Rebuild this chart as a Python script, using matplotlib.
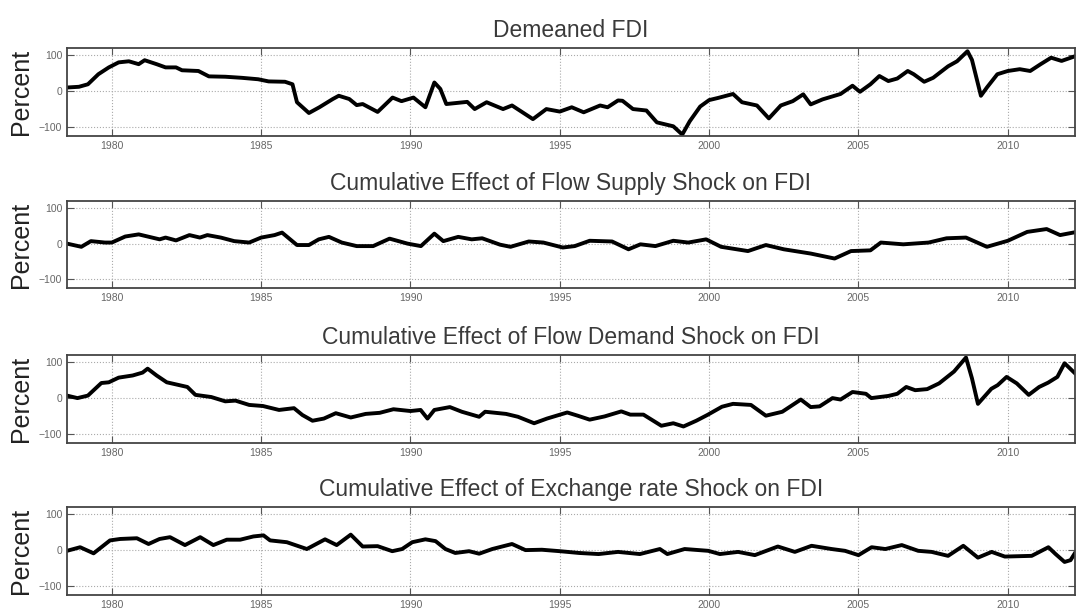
import numpy as np
import matplotlib
matplotlib.use("Agg")
import matplotlib.pyplot as plt

plt.rcParams['font.family'] = ['Liberation Sans', 'DejaVu Sans']

titles = ["Demeaned FDI",
          "Cumulative Effect of Flow Supply Shock on FDI",
          "Cumulative Effect of Flow Demand Shock on FDI",
          "Cumulative Effect of Exchange rate Shock on FDI"]

# demeaned FDI
t_fdi = [1978.5, 1978.9, 1979.2, 1979.55, 1979.9, 1980.23, 1980.57, 1980.9, 1981.1, 1981.5,
         1981.8, 1982.15, 1982.35, 1982.9, 1983.25, 1983.8, 1984.35, 1984.9, 1985.25, 1985.8,
         1986.05, 1986.2, 1986.6, 1986.95, 1987.4, 1987.6, 1987.95, 1988.2, 1988.4, 1988.9,
         1989.4, 1989.7, 1990.1, 1990.5, 1990.8, 1991.0, 1991.2, 1991.9, 1992.15, 1992.55,
         1993.1, 1993.4, 1994.1, 1994.55, 1995.0, 1995.4, 1995.8, 1996.35, 1996.6, 1996.95,
         1997.1, 1997.45, 1997.9, 1998.25, 1998.8, 1999.1, 1999.35, 1999.7, 2000.0, 2000.3,
         2000.8, 2001.1, 2001.6, 2002.0, 2002.4, 2002.8, 2003.15, 2003.4, 2003.8, 2004.4,
         2004.8, 2005.05, 2005.4, 2005.7, 2006.0, 2006.3, 2006.65, 2006.85, 2007.2, 2007.5,
         2008.0, 2008.3, 2008.65, 2008.8, 2009.1, 2009.3, 2009.65, 2010.0, 2010.4, 2010.75,
         2011.1, 2011.45, 2011.8, 2012.25]
v_fdi = [10, 12, 19, 47, 66, 80, 83, 75, 86, 75,
         66, 66, 58, 56, 41, 40, 37, 33, 27, 26,
         19, -31, -61, -45, -22, -13, -22, -39, -36, -58,
         -18, -28, -18, -45, 24, 6, -36, -30, -50, -31,
         -50, -40, -78, -50, -57, -45, -59, -40, -45, -26,
         -27, -50, -54, -87, -98, -121, -84, -43, -25, -19,
         -8, -31, -40, -76, -40, -28, -9, -37, -23, -8,
         15, -2, 19, 42, 28, 35, 56, 47, 26, 37,
         69, 83, 111, 87, -13, 10, 47, 56, 61, 56,
         75, 93, 84, 97]

# flow supply shock
t_sup = [1978.5, 1978.98, 1979.3, 1979.77, 1980.0, 1980.45, 1980.9, 1981.6, 1981.8, 1982.15,
         1982.6, 1982.95, 1983.2, 1983.65, 1984.1, 1984.6, 1985.0, 1985.45, 1985.7, 1986.2,
         1986.6, 1986.93, 1987.27, 1987.7, 1988.2, 1988.75, 1989.3, 1989.9, 1990.35, 1990.8,
         1991.1, 1991.6, 1992.05, 1992.4, 1993.0, 1993.35, 1993.96, 1994.45, 1995.1, 1995.5,
         1996.0, 1996.75, 1997.3, 1997.7, 1998.2, 1998.8, 1999.3, 1999.9, 2000.4, 2001.3,
         2001.9, 2002.5, 2003.4, 2004.2, 2004.75, 2005.4, 2005.75, 2006.5, 2007.35, 2007.95,
         2008.6, 2009.3, 2010.0, 2010.65, 2011.3, 2011.75, 2012.25]
v_sup = [0, -9, 7, 3, 3, 20, 26, 12, 17, 9,
         24, 17, 24, 17, 7, 3, 17, 24, 31, -4,
         -4, 12, 19, 3, -7, -7, 14, 0, -7, 28,
         7, 19, 12, 15, -3, -9, 6, 3, -11, -7,
         8, 6, -16, -2, -7, 8, 3, 12, -9, -21,
         -4, -16, -28, -42, -21, -19, 3, -2, 3, 15,
         17, -9, 8, 33, 41, 24, 32]

# flow demand shock
t_dem = [1978.5, 1978.85, 1979.2, 1979.65, 1979.9, 1980.23, 1980.7, 1981.03, 1981.2, 1981.5,
         1981.84, 1982.53, 1982.8, 1983.33, 1983.8, 1984.14, 1984.6, 1985.06, 1985.6, 1986.1,
         1986.38, 1986.72, 1987.1, 1987.5, 1988.0, 1988.5, 1988.97, 1989.43, 1990.0, 1990.34,
         1990.57, 1990.8, 1991.32, 1991.72, 1992.3, 1992.5, 1993.2, 1993.6, 1994.14, 1994.57,
         1995.25, 1995.6, 1996.0, 1996.5, 1997.06, 1997.36, 1997.8, 1998.4, 1998.8, 1999.14,
         1999.57, 1999.94, 2000.43, 2000.8, 2001.4, 2001.9, 2002.45, 2002.76, 2003.07, 2003.4,
         2003.7, 2004.13, 2004.4, 2004.8, 2005.25, 2005.43, 2006.0, 2006.3, 2006.6, 2006.9,
         2007.3, 2007.7, 2008.2, 2008.6, 2008.8, 2009.0, 2009.45, 2009.66, 2009.96, 2010.3,
         2010.7, 2011.05, 2011.35, 2011.66, 2011.9, 2012.25]
v_dem = [7, 0, 7, 42, 44, 57, 63, 71, 82, 63,
         44, 31, 9, 3, -9, -7, -19, -22, -33, -28,
         -47, -63, -57, -42, -54, -44, -41, -31, -36, -33,
         -57, -33, -25, -38, -52, -38, -44, -52, -70, -57,
         -40, -49, -60, -51, -37, -46, -46, -77, -70, -79,
         -63, -47, -24, -16, -19, -49, -38, -21, -4, -25,
         -23, 0, -4, 17, 12, 0, 6, 12, 31, 22,
         25, 41, 74, 113, 55, -16, 26, 36, 59, 41,
         9, 31, 43, 59, 97, 69]

# exchange rate shock
t_exr = [1978.5, 1978.94, 1979.39, 1979.94, 1980.28, 1980.84, 1981.23, 1981.6, 1981.95, 1982.45,
         1982.96, 1983.4, 1983.85, 1984.3, 1984.74, 1985.08, 1985.3, 1985.86, 1986.53, 1987.14,
         1987.53, 1988.0, 1988.4, 1988.9, 1989.39, 1989.72, 1990.06, 1990.5, 1990.84, 1991.17,
         1991.5, 1991.96, 1992.3, 1992.74, 1993.4, 1993.85, 1994.4, 1995.0, 1995.65, 1996.3,
         1996.95, 1997.68, 1998.35, 1998.6, 1999.18, 1999.97, 2000.36, 2000.97, 2001.53, 2002.3,
         2002.87, 2003.43, 2004.1, 2004.55, 2005.0, 2005.44, 2005.9, 2006.45, 2007.0, 2007.45,
         2008.0, 2008.51, 2009.0, 2009.46, 2009.9, 2010.8, 2011.36, 2011.6, 2011.9, 2012.1,
         2012.25]
v_exr = [-2, 8, -9, 27, 31, 33, 17, 31, 36, 14,
         36, 14, 29, 29, 38, 41, 27, 22, 3, 30,
         14, 43, 10, 11, -3, 3, 22, 30, 25, 3,
         -8, -3, -10, 3, 17, 0, 1, -3, -8, -11,
         -5, -11, 3, -11, 3, -2, -11, -5, -14, 10,
         -5, 12, 3, -2, -14, 8, 3, 14, -2, -5,
         -16, 12, -21, -5, -18, -16, 8, -11, -33, -28,
         -8]

series = [(t_fdi, v_fdi), (t_sup, v_sup), (t_dem, v_dem), (t_exr, v_exr)]
xticks = [1980, 1985, 1990, 1995, 2000, 2005, 2010]
yticks = [-100, 0, 100]

fig = plt.figure(figsize=(10.76, 6.14), dpi=100)

# axes boxes in pixels: top, bottom
boxes = [(48, 136), (201, 288), (355, 443), (507, 595)]
W, H = 1076, 614
for (top, bot), (t, v), title in zip(boxes, series, titles):
    ax = fig.add_axes([67 / W, 1 - bot / H, (1075 - 67) / W, (bot - top) / H])
    ax.plot(t, v, color='black', lw=2.8, solid_joinstyle='round')
    ax.set_xlim(1978.5, 2012.25)
    ax.set_ylim(-125, 120)
    ax.set_xticks(xticks)
    ax.set_yticks(yticks)
    ax.grid(True, linestyle=':', color='#aaaaaa', lw=0.8)
    ax.tick_params(direction='in', top=True, right=True, length=5,
                   labelsize=7.5, labelcolor='#666666', color='#555555')
    for s in ax.spines.values():
        s.set_color('#444444')
        s.set_linewidth(1.3)
    ax.set_title(title, fontsize=16.5, color='#3a3a3a', pad=8)
    ax.set_ylabel('Percent', fontsize=18, color='#222222', labelpad=4)

fig.savefig('out.png', dpi=100)
